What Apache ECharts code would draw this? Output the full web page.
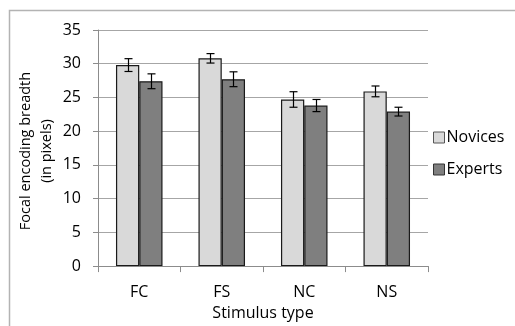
<!DOCTYPE html>
<html>
<head>
<meta charset="utf-8">
<script src="https://cdn.jsdelivr.net/npm/echarts@6/dist/echarts.min.js"></script>
<style>
  html, body { margin: 0; padding: 0; background: #fff; }
  #chart { width: 515px; height: 326px; }
</style>
</head>
<body>
<div id="chart"></div>
<script>
// Focal encoding breadth by stimulus type, novices vs experts (means with error bars)
const categories = ['FC', 'FS', 'NC', 'NS'];
const novices = [29.8, 30.8, 24.7, 25.9];
const noviceErr = [0.95, 0.7, 1.15, 0.8];
const experts = [27.4, 27.7, 23.8, 22.9];
const expertErr = [1.1, 1.1, 0.9, 0.65];
const yTitleLines = ['Focal encoding breadth', '(in pixels)'];

const FONT = '"Open Sans", "Noto Sans", sans-serif';
const CATEGORY_GAP = 0.436;

const chart = echarts.init(document.getElementById('chart'), null, { renderer: 'canvas' });

// Error bar drawer: side = -1 for the left bar of a pair, +1 for the right one
function errorBars(values, errs, side) {
  return {
    type: 'custom',
    z: 10,
    silent: true,
    data: values.map((v, i) => [i, v, errs[i]]),
    renderItem: function (params, api) {
      const idx = api.value(0);
      const mean = api.value(1);
      const e = api.value(2);
      const band = api.size([1, 0])[0];
      const barW = band * (1 - CATEGORY_GAP) / 2;
      const top = api.coord([idx, mean + e]);
      const bot = api.coord([idx, mean - e]);
      const x = Math.round(top[0] + side * barW / 2) + 0.5;
      const cap = 4;
      const style = { stroke: '#000', lineWidth: 1.2, fill: null };
      return {
        type: 'group',
        children: [
          { type: 'line', shape: { x1: x, y1: top[1], x2: x, y2: bot[1] }, style: style },
          { type: 'line', shape: { x1: x - cap, y1: top[1], x2: x + cap, y2: top[1] }, style: style },
          { type: 'line', shape: { x1: x - cap, y1: bot[1], x2: x + cap, y2: bot[1] }, style: style }
        ]
      };
    }
  };
}

// Rotated two-line y-axis title
const yTitle = yTitleLines.map((line, i) => ({
  type: 'text',
  x: 26 + i * 21,
  y: 151,
  rotation: Math.PI / 2,
  silent: true,
  style: {
    text: line,
    fontFamily: FONT,
    fontSize: 14.5,
    fill: '#000',
    align: 'center',
    verticalAlign: 'middle'
  }
}));

chart.setOption({
  animation: false,
  backgroundColor: '#fff',
  graphic: [{
    type: 'rect',
    shape: { x: 9.5, y: 10.5, width: 520, height: 330 },
    style: { fill: null, stroke: '#b3b3b3', lineWidth: 1.5 },
    silent: true
  }].concat(yTitle),
  grid: { left: 98, right: 87, top: 30, bottom: 53, containLabel: false },
  legend: {
    orient: 'vertical',
    left: 433,
    top: 129,
    padding: 0,
    itemWidth: 11,
    itemHeight: 11,
    itemGap: 15,
    icon: 'rect',
    textStyle: { fontFamily: FONT, fontSize: 16, lineHeight: 17, color: '#000', padding: [0, 0, 0, -3] },
    data: [
      { name: 'Novices', itemStyle: { borderColor: '#555', borderWidth: 1 } },
      { name: 'Experts', itemStyle: { borderColor: '#333', borderWidth: 1 } }
    ]
  },
  xAxis: {
    type: 'category',
    data: categories,
    name: 'Stimulus type',
    nameLocation: 'middle',
    nameGap: 36,
    nameTextStyle: { fontFamily: FONT, fontSize: 16, color: '#000' },
    axisLine: { lineStyle: { color: '#8c8c8c', width: 1 } },
    axisTick: { show: true, length: 6, lineStyle: { color: '#8c8c8c' } },
    axisLabel: { fontFamily: FONT, fontSize: 16, color: '#000', margin: 18 }
  },
  yAxis: {
    type: 'value',
    min: 0,
    max: 35,
    interval: 5,
    axisLine: { show: true, lineStyle: { color: '#8c8c8c', width: 1 } },
    axisTick: { show: true, length: 5, lineStyle: { color: '#8c8c8c' } },
    axisLabel: { fontFamily: FONT, fontSize: 16, color: '#000', margin: 17 },
    splitLine: { lineStyle: { color: '#a6a6a6', width: 1.2 } }
  },
  series: [
    {
      name: 'Novices',
      type: 'bar',
      data: novices,
      barGap: '0%',
      barCategoryGap: (CATEGORY_GAP * 100) + '%',
      itemStyle: { color: '#d9d9d9', borderColor: '#1a1a1a', borderWidth: 1.2 }
    },
    {
      name: 'Experts',
      type: 'bar',
      data: experts,
      barGap: '0%',
      barCategoryGap: (CATEGORY_GAP * 100) + '%',
      itemStyle: { color: '#7f7f7f', borderColor: '#1a1a1a', borderWidth: 1.2 }
    },
    errorBars(novices, noviceErr, -1),
    errorBars(experts, expertErr, 1)
  ]
});
</script>
</body>
</html>
